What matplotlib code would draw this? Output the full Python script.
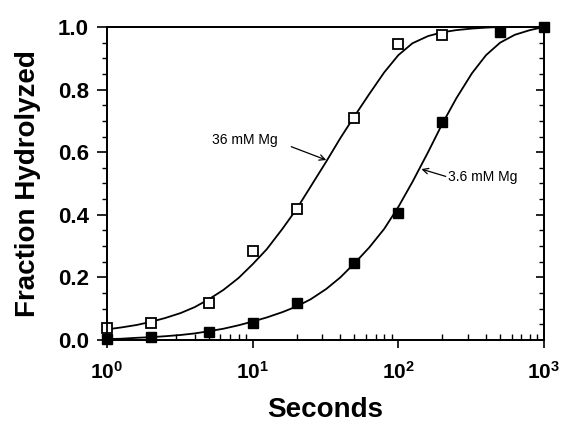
import numpy as np
import matplotlib
matplotlib.use("Agg")
import matplotlib.pyplot as plt
from matplotlib.ticker import FixedLocator, NullFormatter

plt.rcParams['font.family'] = ['Liberation Sans', 'DejaVu Sans']
plt.rcParams['mathtext.fontset'] = 'custom'
plt.rcParams['mathtext.rm'] = 'Liberation Sans:bold'
plt.rcParams['mathtext.bf'] = 'Liberation Sans:bold'

# measured points
t_pts = [1, 2, 5, 10, 20, 50, 100, 200]
mg36_pts = [0.038, 0.054, 0.118, 0.285, 0.418, 0.709, 0.946, 0.974]
t_pts2 = [1, 2, 5, 10, 20, 50, 100, 200, 500, 1000]
mg3_6_pts = [0.003, 0.010, 0.026, 0.054, 0.118, 0.246, 0.406, 0.697, 0.985, 1.0]

# fitted curves
t_fit = [1, 1.25, 1.6, 2, 2.5, 3.2, 4, 5, 6.3, 8, 10, 12.5, 16, 20, 25, 32, 40, 50,
         63, 80, 100, 125, 160, 200, 250, 320, 400, 500, 630, 800, 1000]
mg36_fit = [0.034, 0.040, 0.048, 0.058, 0.070, 0.086, 0.105, 0.130, 0.160, 0.198,
            0.242, 0.290, 0.355, 0.418, 0.490, 0.570, 0.645, 0.715, 0.785, 0.855,
            0.910, 0.948, 0.971, 0.983, 0.990, 0.995, 0.998, 1.0, 1.0, 1.0, 1.0]
mg3_6_fit = [0.003, 0.004, 0.007, 0.009, 0.012, 0.016, 0.021, 0.028, 0.036, 0.047,
             0.059, 0.072, 0.089, 0.107, 0.130, 0.163, 0.200, 0.245, 0.295, 0.355,
             0.425, 0.505, 0.600, 0.690, 0.772, 0.852, 0.910, 0.950, 0.975, 0.990, 1.0]

x_ticks = [1, 10, 100, 1000]
x_labels = [r'$\mathbf{10^{0}}$', r'$\mathbf{10^{1}}$', r'$\mathbf{10^{2}}$', r'$\mathbf{10^{3}}$']
y_ticks = [0, 0.2, 0.4, 0.6, 0.8, 1.0]
y_labels = ['0.0', '0.2', '0.4', '0.6', '0.8', '1.0']

fig = plt.figure(figsize=(5.77, 4.34), dpi=100)
ax = fig.add_axes([0.1854, 0.2166, 0.7574, 0.7212])

ax.plot(t_fit, mg36_fit, color='black', lw=1.3)
ax.plot(t_fit, mg3_6_fit, color='black', lw=1.3)
ax.plot(t_pts, mg36_pts, 's', mfc='white', mec='black', mew=1.3, ms=7, clip_on=False, zorder=5)
ax.plot(t_pts2, mg3_6_pts, 's', mfc='black', mec='black', ms=7, clip_on=False, zorder=5)

ax.set_xscale('log')
ax.set_xlim(1, 1000)
ax.set_ylim(0, 1.0)

ax.set_xticks(x_ticks)
ax.set_xticklabels(x_labels, fontsize=15)
ax.xaxis.set_minor_formatter(NullFormatter())
ax.yaxis.set_major_locator(FixedLocator(y_ticks))
ax.yaxis.set_minor_locator(FixedLocator(np.arange(0, 1.001, 0.05)))
ax.set_yticklabels(y_labels, fontsize=16, fontweight='bold')

ax.tick_params(axis='y', which='major', direction='out', length=7, width=1.2, right=False, pad=6)
ax.tick_params(axis='y', which='minor', direction='out', length=3.5, width=1.0, right=False)
ax.tick_params(axis='x', which='major', direction='out', length=6, width=1.2, top=False, pad=9)
ax.tick_params(axis='x', which='minor', direction='in', length=4, width=1.0, top=False)

# right side ticks point inward
ax2 = ax.twinx()
ax2.set_ylim(0, 1.0)
ax2.yaxis.set_major_locator(FixedLocator(y_ticks))
ax2.yaxis.set_minor_locator(FixedLocator(np.arange(0, 1.001, 0.05)))
ax2.tick_params(axis='y', which='major', direction='in', length=6, width=1.2, labelright=False)
ax2.tick_params(axis='y', which='minor', direction='in', length=3.5, width=1.0)

for a in (ax, ax2):
    for s in a.spines.values():
        s.set_linewidth(1.3)

ax.set_xlabel('Seconds', fontsize=20, fontweight='bold', labelpad=10)
ax.set_ylabel('Fraction Hydrolyzed', fontsize=20, fontweight='bold', labelpad=12)

ax.annotate('36 mM Mg', xy=(32, 0.575), xytext=(5.3, 0.64), fontsize=10,
            va='center', ha='left',
            arrowprops=dict(arrowstyle='->', color='black', lw=0.9, shrinkA=0, shrinkB=0,
                            relpos=(1.2, 0.0)))
ax.annotate('3.6 mM Mg', xy=(144, 0.546), xytext=(221, 0.52), fontsize=10,
            va='center', ha='left',
            arrowprops=dict(arrowstyle='->', color='black', lw=0.9, shrinkA=0, shrinkB=0,
                            relpos=(0.0, 0.5)))

fig.savefig('out.png', dpi=100)
